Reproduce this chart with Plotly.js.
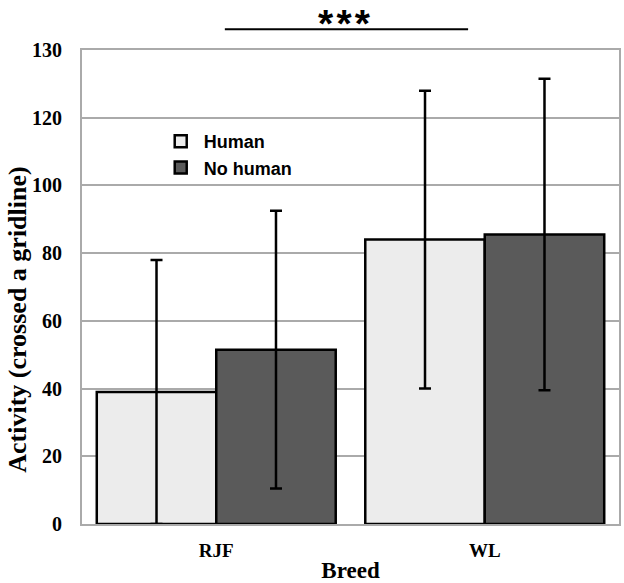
<!DOCTYPE html>
<html>
<head>
<meta charset="utf-8">
<script src="https://cdn.plot.ly/plotly-3.0.1.min.js"></script>
<style>html,body{margin:0;padding:0;background:#fff;}#chart{width:624px;height:583px;}</style>
</head>
<body>
<div id="chart"></div>
<script>
var categories = ["RJF", "WL"];
var humanMeans = [39, 84];
var humanErr = [39, 44];
var noHumanMeans = [51.5, 85.5];
var noHumanErr = [41, 46];
var tickValues = [0, 20, 40, 60, 80, 100, 120, 140];
var tickLabels = ["0", "20", "40", "60", "80", "100", "120", "130"];

var serif = "Liberation Serif, Times New Roman, serif";
var sans = "Liberation Sans, Arial, sans-serif";

var traces = [
  {
    type: "bar", name: "Human", x: categories, y: humanMeans,
    marker: {color: "#ececec", line: {color: "#000", width: 2.5}},
    error_y: {type: "data", array: humanErr, visible: true, color: "#000", thickness: 2.5, width: 6}
  },
  {
    type: "bar", name: "No human", x: categories, y: noHumanMeans,
    marker: {color: "#5a5a5a", line: {color: "#000", width: 2.5}},
    error_y: {type: "data", array: noHumanErr, visible: true, color: "#000", thickness: 2.5, width: 6}
  }
];

var layout = {
  width: 624, height: 583,
  margin: {l: 82, r: 5, t: 50, b: 59},
  paper_bgcolor: "#fff", plot_bgcolor: "#fff",
  barmode: "group", bargap: 0.11, bargroupgap: 0,
  showlegend: true,
  legend: {x: 0.141, y: 0.846, xanchor: "left", yanchor: "top", bgcolor: "rgba(0,0,0,0)",
    font: {family: sans, size: 18, color: "#000", weight: "bold"}, tracegroupgap: 0, itemwidth: 36},
  xaxis: {
    type: "category",
    showline: true, linecolor: "#aaa", linewidth: 2, mirror: true,
    ticks: "", ticklabelstandoff: 8,
    tickfont: {family: serif, size: 19, color: "#000", weight: "bold"},
    title: {text: "Breed", font: {family: serif, size: 23, color: "#000", weight: "bold"}, standoff: 6}
  },
  yaxis: {
    range: [0, 140], tickvals: tickValues, ticktext: tickLabels,
    showgrid: true, gridcolor: "#aaa", gridwidth: 2,
    showline: true, linecolor: "#aaa", linewidth: 2, mirror: true,
    zeroline: false, ticks: "", ticklabelstandoff: 14,
    tickfont: {family: serif, size: 20, color: "#000", weight: "bold"}
  },
  shapes: [
    {type: "line", xref: "paper", yref: "paper", x0: 0.266, x1: 0.719, y0: 1.044, y1: 1.044,
     line: {color: "#000", width: 2}}
  ],
  annotations: [
    {xref: "paper", yref: "paper", x: 0.488, y: 1.104, xanchor: "center", yanchor: "top",
     borderpad: 0, text: "*\u200A*\u200A*", showarrow: false,
     font: {family: sans, size: 39, color: "#000", weight: "bold"}},
    {xref: "paper", yref: "paper", x: -0.12, y: 0.43, xanchor: "center", yanchor: "middle",
     textangle: -90, text: "Activity (crossed a gridline)", showarrow: false,
     font: {family: serif, size: 26, color: "#000", weight: "bold"}}
  ]
};

Plotly.newPlot("chart", traces, layout, {displayModeBar: false, staticPlot: true});
</script>
</body>
</html>
